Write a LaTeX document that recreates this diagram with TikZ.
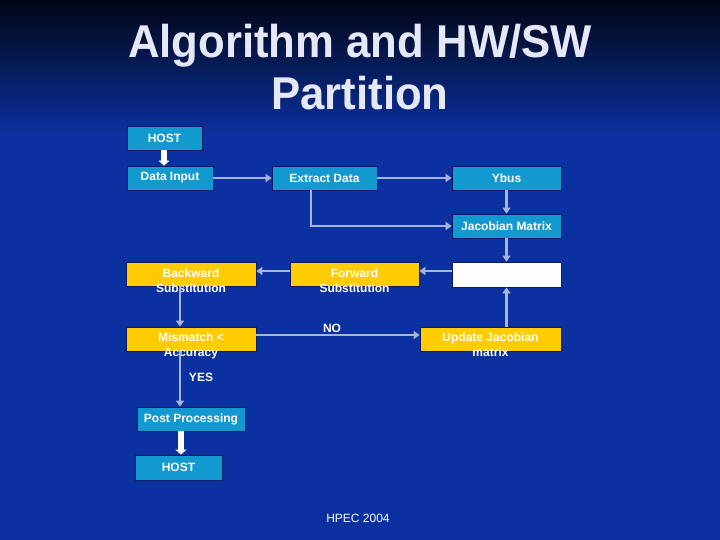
\documentclass[tikz,border=0pt]{standalone}
\usepackage{fontspec}
\setmainfont{Liberation Sans}
\newfontfamily\titlefont[FakeStretch=0.95]{Liberation Sans}
\usetikzlibrary{arrows.meta}
\definecolor{bgblue}{HTML}{0B31A0}
\definecolor{bgtop}{HTML}{020614}
\definecolor{cyanbox}{HTML}{1299CF}
\definecolor{yelbox}{HTML}{FFCC00}
\definecolor{edgecol}{HTML}{0E1B5E}
\definecolor{conncol}{HTML}{A9B4DA}
\definecolor{titlecol}{HTML}{E6E8F8}
\tikzset{
  cbox/.style={draw=edgecol, line width=0.8pt, fill=cyanbox, text=white, font=\bfseries\fontsize{12}{14}\selectfont, inner sep=0pt},
  ybox/.style={draw=edgecol, line width=0.8pt, fill=yelbox, inner sep=0pt},
  wbox/.style={draw=edgecol, line width=0.8pt, fill=white, inner sep=0pt},
  ytext/.style={text=white, font=\bfseries\fontsize{12}{15}\selectfont, align=center, inner sep=0pt},
  conn/.style={draw=conncol, line width=2.8pt, -{Triangle[length=6pt,width=8pt]}},
  warrow/.style={draw=white, line width=6pt, -{Triangle[length=5pt,width=11pt]}},
  lbl/.style={text=white, font=\bfseries\fontsize{12}{14}\selectfont, inner sep=0pt}
}
\begin{document}
\begin{tikzpicture}[x=1pt,y=-1pt]
\useasboundingbox (0,0) rectangle (720,540);
\fill[bgblue] (0,0) rectangle (720,540);
\shade[top color=bgtop, bottom color=bgblue] (0,0) rectangle (720,135);
% title
\node[text=titlecol, font=\titlefont\bfseries\fontsize{46}{52}\selectfont, align=center, inner sep=0pt] (title) at (360,67) {Algorithm and HW/SW\\Partition};
% boxes
\node[cbox, minimum width=75pt, minimum height=24pt] (host1) at (164.5,138) {HOST};
\node[cbox, minimum width=86pt, minimum height=24pt] (datain) at (170,178) {Data Input};
\node[cbox, minimum width=105pt, minimum height=24pt] (extract) at (324.5,178) {Extract Data};
\node[cbox, minimum width=109pt, minimum height=24pt] (ybus) at (506.5,178) {Ybus};
\node[cbox, minimum width=109pt, minimum height=24pt] (jac) at (506.5,226) {Jacobian Matrix};
\node[ybox, minimum width=130pt, minimum height=24pt] (back) at (191,274) {};
\node[ybox, minimum width=129pt, minimum height=24pt] (fwd) at (354.5,274) {};
\node[wbox, minimum width=109pt, minimum height=25pt] (white) at (506.5,274.5) {};
\node[ybox, minimum width=130pt, minimum height=24pt] (mism) at (191,339) {};
\node[ybox, minimum width=141pt, minimum height=24pt] (upd) at (490.5,339) {};
\node[cbox, minimum width=108pt, minimum height=24pt] (post) at (191,419) {Post Processing};
\node[cbox, minimum width=87pt, minimum height=25pt] (host2) at (178.5,467.5) {HOST};
% yellow box texts
\node[ytext] (backt) at (191,281) {Backward\\Substitution};
\node[ytext] (fwdt) at (354.5,281) {Forward\\Substitution};
\node[ytext] (mismt) at (191,346) {Mismatch <\\Accuracy};
\node[ytext] (updt) at (490.5,345) {Update Jacobian\\matrix};
% connectors
\draw[warrow] ([xshift=-0.5pt]host1.south) -- ([xshift=-0.5pt]host1.south |- datain.north);
\draw[conn] (datain.east) -- (extract.west);
\draw[conn] (extract.east) -- (ybus.west);
\draw[conn] ([xshift=-13.5pt]extract.south) |- (jac.west);
\draw[conn] (ybus.south) -- (jac.north);
\draw[conn] (jac.south) -- (white.north);
\draw[conn] ([yshift=3.5pt]white.west) -- ([yshift=3pt]fwd.east);
\draw[conn] ([yshift=3pt]fwd.west) -- ([yshift=3pt]back.east);
\draw[conn] ([xshift=-11pt]back.south) -- ([xshift=-11pt]mism.north);
\draw[conn] ([yshift=4pt]mism.east) -- ([yshift=4pt]upd.west);
\draw[conn] (white.south |- upd.north) -- (white.south);
\draw[conn] ([xshift=-11pt]mism.south) -- ([xshift=-11pt]post.north);
\draw[warrow] ([xshift=-10pt]post.south) -- ([xshift=-10pt]post.south |- host2.north);
% labels
\node[lbl] (no) at (332,328) {NO};
\node[lbl] (yes) at (201,377) {YES};
\node[text=white, font=\fontsize{12}{14}\selectfont, inner sep=0pt] (hpec) at (358,518) {HPEC 2004};
\end{tikzpicture}
\end{document}
